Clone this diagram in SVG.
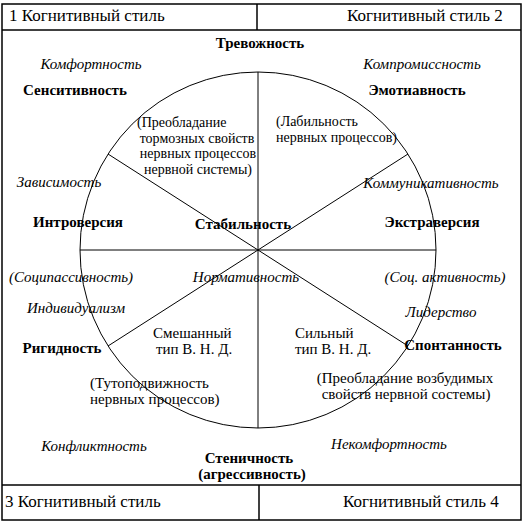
<svg xmlns="http://www.w3.org/2000/svg" width="525" height="523" viewBox="0 0 525 523">
<style>
.h{font-size:17px}
.b{font-size:15px;font-weight:bold}
.i{font-size:15px;font-style:italic}
.r{font-size:15px}
.s{font-size:14px}
.m{text-anchor:middle}
.ln{stroke:#000;stroke-width:1;fill:none}
.fr{stroke:#000;stroke-width:1.5;fill:none}
</style>
<rect width="525" height="523" fill="#fff"/>
<g id="frame">
<rect class="fr" x="2" y="4" width="519" height="516"/>
<line class="fr" x1="2" y1="30" x2="521" y2="30"/>
<line class="fr" x1="257" y1="4" x2="257" y2="30"/>
<line class="fr" x1="2" y1="485" x2="521" y2="485"/>
<line class="fr" x1="259" y1="485" x2="259" y2="520"/>
</g>
<g id="circle"><circle class="ln" cx="258" cy="250" r="178"/></g>
<g id="connectors">
<line class="ln" x1="80" y1="250" x2="436" y2="250"/>
<line class="ln" x1="258" y1="72" x2="258" y2="428"/>
<line class="ln" x1="108" y1="154" x2="258" y2="250"/>
<line class="ln" x1="408" y1="154" x2="258" y2="250"/>
<line class="ln" x1="108" y1="346" x2="258" y2="250"/>
<line class="ln" x1="408" y1="346" x2="258" y2="250"/>
</g>
<g font-family="'Liberation Serif', Tinos, 'Times New Roman', 'DejaVu Serif', serif" fill="#000">
<g id="style1"><text class="h" x="9" y="21">1 Когнитивный стиль</text></g>
<g id="style2"><text class="h" x="347" y="21">Когнитивный стиль 2</text></g>
<g id="style3"><text class="h" x="5" y="507">3 Когнитивный стиль</text></g>
<g id="style4"><text class="h" x="343" y="507">Когнитивный стиль 4</text></g>
<g id="trevozhnost"><text class="b m" x="260" y="48">Тревожность</text></g>
<g id="komfortnost"><text class="i m" x="91" y="69">Комфортность</text></g>
<g id="kompromissnost"><text class="i m" x="422" y="69">Компромиссность</text></g>
<g id="sensitivnost"><text class="b m" x="75" y="95">Сенситивность</text></g>
<g id="emotivnost"><text class="b m" x="417" y="95">Эмотиавность</text></g>
<g id="tormoz"><text class="s" x="137" y="127">(Преобладание</text><text class="s m" x="197" y="142.5">тормозных свойств</text><text class="s m" x="198" y="158">нервных процессов</text><text class="s m" x="198" y="173.5">нервной системы)</text></g>
<g id="labilnost"><text class="s" x="276" y="126">(Лабильность</text><text class="s" x="276" y="141.5">нервных процессов)</text></g>
<g id="zavisimost"><text class="i m" x="59" y="187">Зависимость</text></g>
<g id="kommunikativnost"><text class="i m" x="431" y="188">Коммуникативность</text></g>
<g id="introversiya"><text class="b m" x="78" y="227">Интроверсия</text></g>
<g id="stabilnost"><text class="b m" x="243" y="229">Стабильность</text></g>
<g id="ekstraversiya"><text class="b m" x="432" y="227">Экстраверсия</text></g>
<g id="socipassivnost"><text class="i m" x="71" y="282">(Соципассивность)</text></g>
<g id="normativnost"><text class="i m" x="246" y="282">Нормативность</text></g>
<g id="socaktivnost"><text class="i m" x="445" y="282">(Соц. активность)</text></g>
<g id="individualizm"><text class="i m" x="76" y="313">Индивидуализм</text></g>
<g id="liderstvo"><text class="i m" x="441" y="317">Лидерство</text></g>
<g id="smeshanny"><text class="r" x="153" y="338">Смешанный</text><text class="r" x="156" y="354">тип В. Н. Д.</text></g>
<g id="silny"><text class="r" x="295" y="338">Сильный</text><text class="r" x="295" y="354">тип В. Н. Д.</text></g>
<g id="rigidnost"><text class="b m" x="62" y="353">Ригидность</text></g>
<g id="spontannost"><text class="b m" x="453" y="350">Спонтанность</text></g>
<g id="tutopodvizhnost"><text class="r" x="90" y="388">(Тутоподвижность</text><text class="r" x="90" y="404">нервных процессов)</text></g>
<g id="vozbudimye"><text class="r m" x="405" y="383">(Преобладание возбудимых</text><text class="r m" x="406" y="399">свойств нервной состемы)</text></g>
<g id="konfliktnost"><text class="i m" x="94" y="451">Конфликтность</text></g>
<g id="nekomfortnost"><text class="i m" x="389" y="449">Некомфортность</text></g>
<g id="stenichnost"><text class="b m" x="249" y="463">Стеничность</text><text class="b m" x="252" y="479">(агрессивность)</text></g>
</g>
</svg>
